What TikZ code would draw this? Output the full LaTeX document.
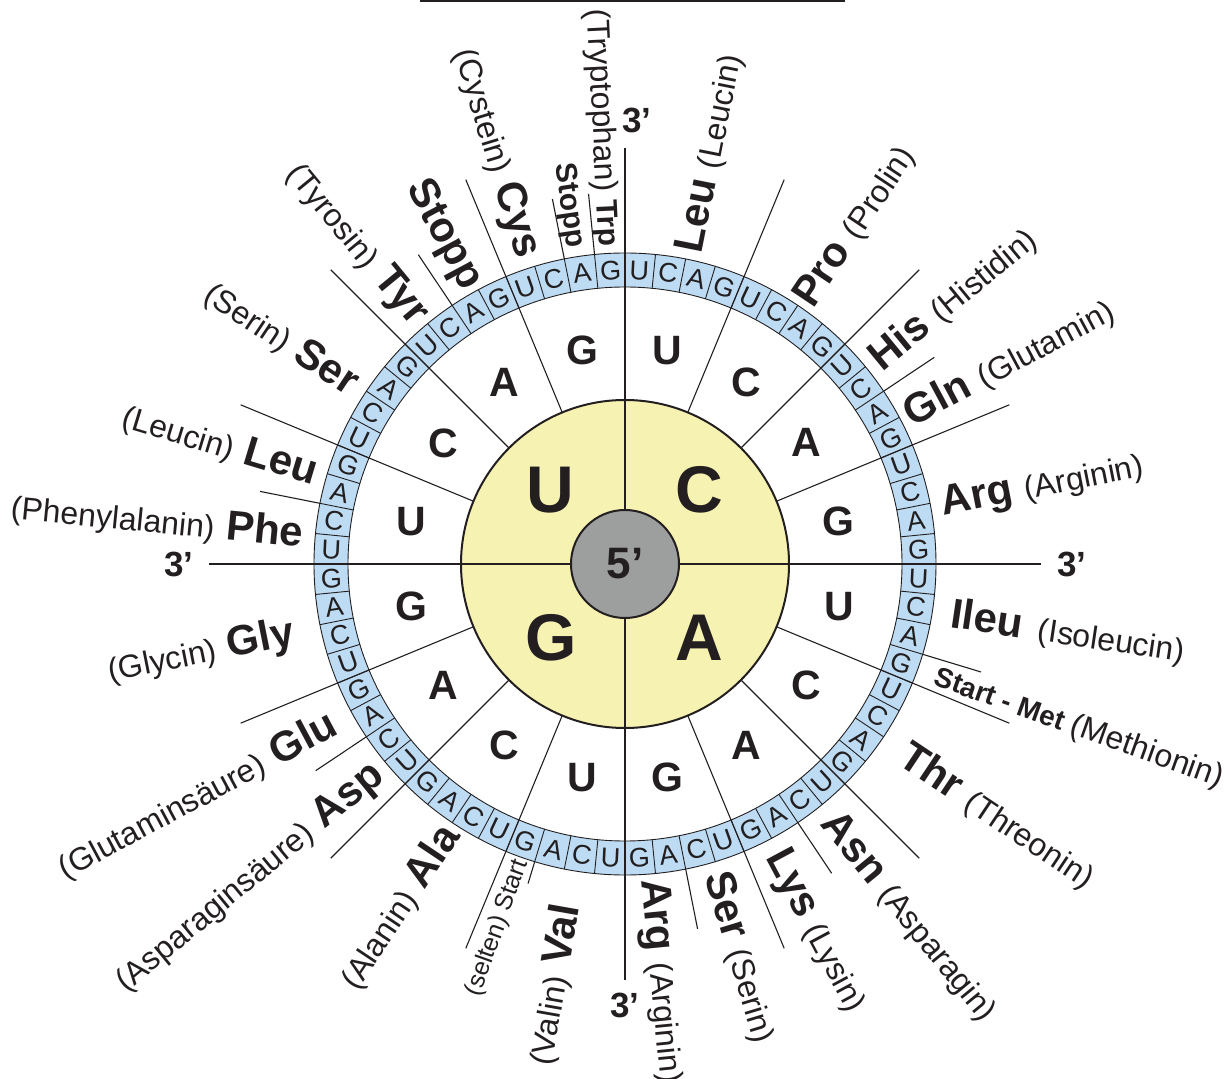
\documentclass[tikz,border=0pt]{standalone}
\usepackage{fontspec}
\setmainfont{Liberation Sans}
\definecolor{ink}{RGB}{35,31,32}
\definecolor{ringblue}{RGB}{189,220,244}
\definecolor{coreyellow}{RGB}{246,242,178}
\definecolor{hubgray}{RGB}{157,158,158}
\newcommand{\aaname}[1]{{\mdseries\fontsize{32}{32}\selectfont #1}}

\begin{document}
\begin{tikzpicture}[
    axisline/.style={ink, line width=2.4pt},
    spoke/.style={ink, line width=1.1pt},
    cellline/.style={ink, line width=0.9pt},
    firstbase/.style={font=\bfseries\fontsize{66}{66}\selectfont, text=ink},
    secondbase/.style={font=\bfseries\fontsize{41}{41}\selectfont, text=ink},
    thirdbase/.style={font=\fontsize{27}{27}\selectfont, text=ink, inner sep=0pt},
    amino/.style={font=\bfseries\fontsize{42}{42}\selectfont, text=ink, inner sep=0pt, text height=30pt, text depth=0pt},
    readout/.style={amino, anchor=west, rotate=#1},
    readin/.style={amino, anchor=east, rotate=#1+180},
    endlabel/.style={font=\bfseries\fontsize{35}{35}\selectfont, text=ink}
]
\useasboundingbox (-625pt,-514pt) rectangle (605pt,564pt);

% rule at the top edge
\draw[ink, line width=1.5pt] (-205pt,563pt) -- (220pt,563pt);

% third base ring
\fill[ringblue, even odd rule] (0,0) circle (311pt) circle (277pt);
\draw[cellline] (0,0) circle (311pt) (0,0) circle (277pt);
\foreach \k in {0,...,63}
  \draw[cellline] ({90-\k*5.625}:277pt) -- ({90-\k*5.625}:311pt);

% first base disc
\draw[ink, line width=2pt, fill=coreyellow] (0,0) circle (164pt);

% second base borders
\foreach \ang in {67.5,45,22.5,-22.5,-45,-67.5,-112.5,-135,-157.5,157.5,135,112.5}
  \draw[spoke] (\ang:164pt) -- (\ang:416pt);

% amino acid borders
\foreach \ang in {33.75,-16.875,-56.25,-78.75,-146.25,168.75,123.75,101.25,95.625}
  \draw[spoke] (\ang:311pt) -- (\ang:372pt);
\draw[spoke] (-106.875:311pt) -- (-106.875:334pt);

% axes and 5' hub
\foreach \ang in {0,90,180,270}
  \draw[axisline] (\ang:54pt) -- (\ang:416pt);
\draw[ink, line width=2pt, fill=hubgray] (0,0) circle (54pt);
\node[font=\bfseries\fontsize{44}{44}\selectfont, text=ink] (hub) at (0,0) {5’};

\node[endlabel] (endE) at (0:447pt) {3’};
\node[endlabel] (endN) at (12pt,444pt) {3’};
\node[endlabel] (endW) at (180:446pt) {3’};
\node[endlabel] (endS) at (270:441pt) {3’};

% first base
\node[firstbase] (fU) at (135:105pt) {U};
\node[firstbase] (fC) at (45:105pt) {C};
\node[firstbase] (fA) at (-45:105pt) {A};
\node[firstbase] (fG) at (-135:105pt) {G};

% second base
\foreach \j in {0,...,15} {
  \pgfmathtruncatemacro\m{mod(\j,4)}
  \node[secondbase] (s\j) at ({90-(\j+0.5)*22.5}:218pt) {\ifcase\m U\or C\or A\or G\fi};
}

% third base
\foreach \k in {0,...,63} {
  \pgfmathsetmacro\ang{90-(\k+0.5)*5.625}
  \pgfmathsetmacro\tilt{\ang-90*round(\ang/90)}
  \pgfmathtruncatemacro\m{mod(\k,4)}
  \node[thirdbase, rotate=\tilt] (t\k) at (\ang:294pt) {\ifcase\m U\or C\or A\or G\fi};
}

% C quadrant
\node[readout=78.75] (leuC) at (78.75:318pt) {Leu \aaname{(Leucin)}};
\node[readout=56.25] (pro) at (56.25:316pt) {Pro \aaname{(Prolin)}};
\node[readout=39.375] (his) at (39.375:320pt) {His \aaname{(Histidin)}};
\node[readout=28.125] (gln) at (28.125:318pt) {Gln \aaname{(Glutamin)}};
\node[readout=11.25] (argC) at (11.25:322pt) {Arg \aaname{(Arginin)}};

% A quadrant
\node[readout=-8.4375] (ile) at (-8.4375:330pt) {Ileu\hspace{16pt}\aaname{(Isoleucin)}};
\node[readout=-19.6875, font=\bfseries\fontsize{28}{28}\selectfont, text height=20pt] (met) at (-19.6875:330pt) {Start - Met \aaname{(Methionin)}};
\node[readout=-33.75] (thr) at (-33.75:336pt) {Thr \aaname{(Threonin)}};
\node[readout=-50.625] (asn) at (-50.625:325pt) {Asn \aaname{(Asparagin)}};
\node[readout=-61.875] (lys) at (-61.875:325pt) {Lys \aaname{(Lysin)}};
\node[readout=-73.125] (serA) at (-73.125:322pt) {Ser \aaname{(Serin)}};
\node[readout=-84.375] (argA) at (-84.375:316pt) {Arg \aaname{(Arginin)}};

% G quadrant
\node[readin=-100] (val) at (-100:345pt) {\aaname{(Valin)} Val};
\node[readin=-109.6875, font=\fontsize{25}{25}\selectfont, text height=18pt] (rare) at (-109.6875:314pt) {(selten) Start};
\node[readin=-123.75] (ala) at (-123.75:317pt) {\aaname{(Alanin)} Ala};
\node[readin=-140.625] (asp) at (-140.625:321pt) {\aaname{(Asparaginsäure)} Asp};
\node[readin=-151.875] (glu) at (-151.875:331pt) {\aaname{(Glutaminsäure)} Glu};
\node[readin=-168.75] (gly) at (-168.75:338pt) {\aaname{(Glycin)} Gly};

% U quadrant
\node[readin=174.375] (phe) at (174.375:323pt) {\aaname{(Phenylalanin)} Phe};
\node[readin=163.125] (leuU) at (163.125:321pt) {\aaname{(Leucin)} Leu};
\node[readin=146.25] (serU) at (146.25:323pt) {\aaname{(Serin)} Ser};
\node[readin=129.375] (tyr) at (129.375:318pt) {\aaname{(Tyrosin)} Tyr};
\node[readin=118.125] (stopA) at (118.125:316pt) {Stopp};
\node[readin=106.875] (cys) at (106.875:322pt) {\aaname{(Cystein)} Cys};
\node[readin=98.4375, font=\bfseries\fontsize{30}{30}\selectfont, text height=21pt] (stopB) at (98.4375:320pt) {Stopp};
\node[readin=92.8125, font=\bfseries\fontsize{30}{30}\selectfont, text height=21pt] (trp) at (92.8125:318pt) {\aaname{(Tryptophan)} Trp};
\end{tikzpicture}
\end{document}
